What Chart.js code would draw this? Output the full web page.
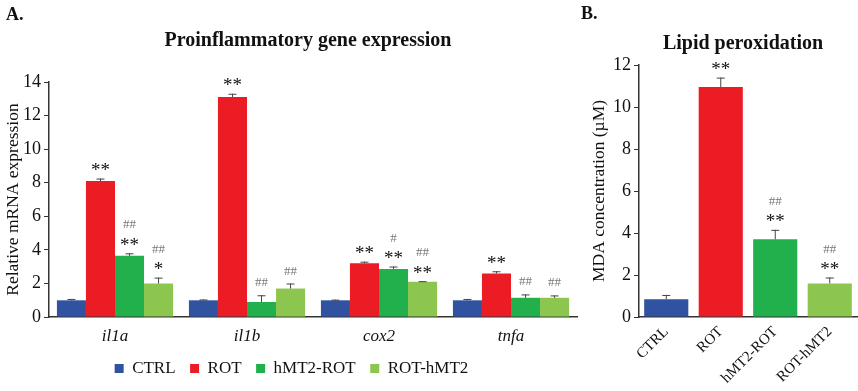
<!DOCTYPE html>
<html>
<head>
<meta charset="utf-8">
<script src="https://cdn.jsdelivr.net/npm/chart.js@4"></script>
<style>
  html, body { margin: 0; padding: 0; background: #fff; }
  #wrap { position: relative; width: 858px; height: 391px; overflow: hidden; font-family: 'Liberation Serif', 'Times New Roman', serif; color: #111; }
  #ca { position: absolute; left: 0; top: 0; width: 580px; height: 391px; }
  #cb { position: absolute; left: 580px; top: 0; width: 278px; height: 391px; }
  .lbl { position: absolute; font-weight: bold; line-height: 1; white-space: nowrap; }
  .ttl { position: absolute; font-weight: bold; line-height: 1; white-space: nowrap; transform: translate(-50%, -50%); }
</style>
</head>
<body>
<div id="wrap">
  <canvas id="ca" width="580" height="391"></canvas>
  <canvas id="cb" width="278" height="391"></canvas>
  <div class="lbl" style="left:6px; top:5px; font-size:18px;">A.</div>
  <div class="lbl" style="left:581px; top:4px; font-size:18px;">B.</div>
  <div class="ttl" style="left:308px; top:39px; font-size:20px;">Proinflammatory gene expression</div>
  <div class="ttl" style="left:743px; top:42px; font-size:20px;">Lipid peroxidation</div>
</div>
<script>
// ---------- Data: panel A ----------
const genes = ['il1a', 'il1b', 'cox2', 'tnfa'];
const groups = ['CTRL', 'ROT', 'hMT2-ROT', 'ROT-hMT2'];
const ctrlA = [1.0, 1.0, 1.0, 1.0];
const ctrlAErr = [0.08, 0.05, 0.04, 0.08];
const rotA = [8.1, 13.1, 3.2, 2.6];
const rotAErr = [0.15, 0.2, 0.1, 0.13];
const hmtRotA = [3.65, 0.9, 2.87, 1.15];
const hmtRotAErr = [0.15, 0.4, 0.14, 0.2];
const rotHmtA = [2.0, 1.7, 2.1, 1.15];
const rotHmtAErr = [0.35, 0.3, 0.04, 0.14];
const starsA = [['', '', '', ''], ['**', '**', '**', '**'], ['**', '', '**', ''], ['*', '', '**', '']];
const hashA = [['', '', '', ''], ['', '', '', ''], ['##', '##', '#', '##'], ['##', '##', '##', '##']];
const yTicksA = [0, 2, 4, 6, 8, 10, 12, 14];

// ---------- Data: panel B ----------
const mda = [0.85, 10.95, 3.7, 1.6];
const mdaErr = [0.2, 0.45, 0.45, 0.28];
const starsB = ['', '**', '**', '**'];
const hashB = ['', '', '##', '##'];
const yTicksB = [0, 2, 4, 6, 8, 10, 12];

const colors = ['#3151a1', '#ec1c24', '#21b04b', '#8dc64f'];
const SERIF = "'Liberation Serif', 'Times New Roman', serif";
const AXIS = '#333';

// plugin: error bars (upper only) + significance marks
const marks = {
  id: 'marks',
  afterDatasetsDraw(chart, args, opts) {
    const ctx = chart.ctx;
    const y = chart.scales.y;
    chart.data.datasets.forEach((ds, di) => {
      const meta = chart.getDatasetMeta(di);
      meta.data.forEach((bar, i) => {
        const v = ds.data[i];
        const e = ds.errors[i];
        const x = bar.x;
        const yTop = y.getPixelForValue(v);
        const yErr = y.getPixelForValue(v + e);
        ctx.save();
        ctx.strokeStyle = '#444';
        ctx.lineWidth = 1;
        ctx.beginPath();
        ctx.moveTo(x, yTop);
        ctx.lineTo(x, yErr);
        ctx.moveTo(x - 4, yErr + 0.5);
        ctx.lineTo(x + 4, yErr + 0.5);
        ctx.stroke();
        let off = 12;
        const star = ds.stars[i];
        const hash = ds.hashes[i];
        const drawCentered = (txt, font, color, cy) => {
          ctx.font = font;
          ctx.fillStyle = color;
          ctx.textAlign = 'center';
          ctx.textBaseline = 'alphabetic';
          const m = ctx.measureText(txt);
          const by = cy + (m.actualBoundingBoxAscent - m.actualBoundingBoxDescent) / 2;
          ctx.fillText(txt, x, by);
        };
        if (star) {
          drawCentered(star, opts.starFont, '#111', yErr - off);
          off += 17;
        }
        if (hash) {
          drawCentered(hash, opts.hashFont, '#777', yErr - (star ? off : 13));
        }
        ctx.restore();
      });
    });
  }
};

// ---------- Chart A ----------
const seriesA = [ctrlA, rotA, hmtRotA, rotHmtA];
const errA = [ctrlAErr, rotAErr, hmtRotAErr, rotHmtAErr];
new Chart(document.getElementById('ca'), {
  type: 'bar',
  data: {
    labels: genes,
    datasets: groups.map((g, k) => ({
      label: g,
      data: seriesA[k],
      errors: errA[k],
      stars: starsA[k],
      hashes: hashA[k],
      backgroundColor: colors[k],
      borderWidth: 0,
      categoryPercentage: 0.88,
      barPercentage: 1.0
    }))
  },
  options: {
    responsive: false,
    animation: false,
    layout: { padding: { top: 82, left: 6, right: 3, bottom: 4 } },
    plugins: {
      legend: {
        position: 'bottom',
        labels: {
          font: { family: SERIF, size: 17 },
          color: '#111',
          boxWidth: 9,
          boxHeight: 9,
          padding: 14.5
        }
      },
      tooltip: { enabled: false },
      marks: { starFont: '19px ' + SERIF, hashFont: '13px ' + SERIF }
    },
    scales: {
      x: {
        afterFit: s => { s.height = s.height - 10; },
        grid: { display: true, drawOnChartArea: false, drawTicks: false },
        border: { display: true, color: AXIS, width: 1.5 },
        ticks: { font: { family: SERIF, size: 17, style: 'italic' }, color: '#111', padding: 9 }
      },
      y: {
        min: 0,
        max: 14,
        afterBuildTicks: s => { s.ticks = yTicksA.map(v => ({ value: v })); },
        afterFit: s => { s.width = 43; },
        grid: { drawOnChartArea: false, drawTicks: true, tickLength: 5, tickColor: AXIS },
        border: { display: true, color: AXIS, width: 1.5 },
        ticks: { font: { family: SERIF, size: 18 }, color: '#111', padding: 3 },
        title: { display: true, text: 'Relative mRNA expression', font: { family: SERIF, size: 17.5 }, color: '#111', padding: { top: -3, bottom: 0 } }
      }
    }
  },
  plugins: [marks]
});

// ---------- Chart B ----------
new Chart(document.getElementById('cb'), {
  type: 'bar',
  data: {
    labels: groups,
    datasets: [{
      label: 'MDA',
      data: mda,
      errors: mdaErr,
      stars: starsB,
      hashes: hashB,
      backgroundColor: colors,
      borderWidth: 0,
      categoryPercentage: 1.0,
      barPercentage: 0.81
    }]
  },
  options: {
    responsive: false,
    animation: false,
    layout: { padding: { top: 65, left: 0, right: 1, bottom: 4 } },
    plugins: {
      legend: { display: false },
      tooltip: { enabled: false },
      marks: { starFont: '19px ' + SERIF, hashFont: '13px ' + SERIF }
    },
    scales: {
      x: {
        afterFit: s => { s.height = s.height - 6; },
        grid: { display: true, drawOnChartArea: false, drawTicks: false },
        border: { display: true, color: AXIS, width: 1.5 },
        ticks: { font: { family: SERIF, size: 15 }, color: '#111', padding: 6, minRotation: 45, maxRotation: 45 }
      },
      y: {
        min: 0,
        max: 12,
        afterBuildTicks: s => { s.ticks = yTicksB.map(v => ({ value: v })); },
        afterFit: s => { s.width = 59; },
        grid: { drawOnChartArea: false, drawTicks: true, tickLength: 5, tickColor: AXIS },
        border: { display: true, color: AXIS, width: 1.5 },
        ticks: { font: { family: SERIF, size: 18 }, color: '#111', padding: 3 },
        title: { display: true, text: 'MDA concentration (µM)', font: { family: SERIF, size: 17.5 }, color: '#111', padding: { top: 9, bottom: 0 } }
      }
    }
  },
  plugins: [marks]
});
</script>
</body>
</html>
